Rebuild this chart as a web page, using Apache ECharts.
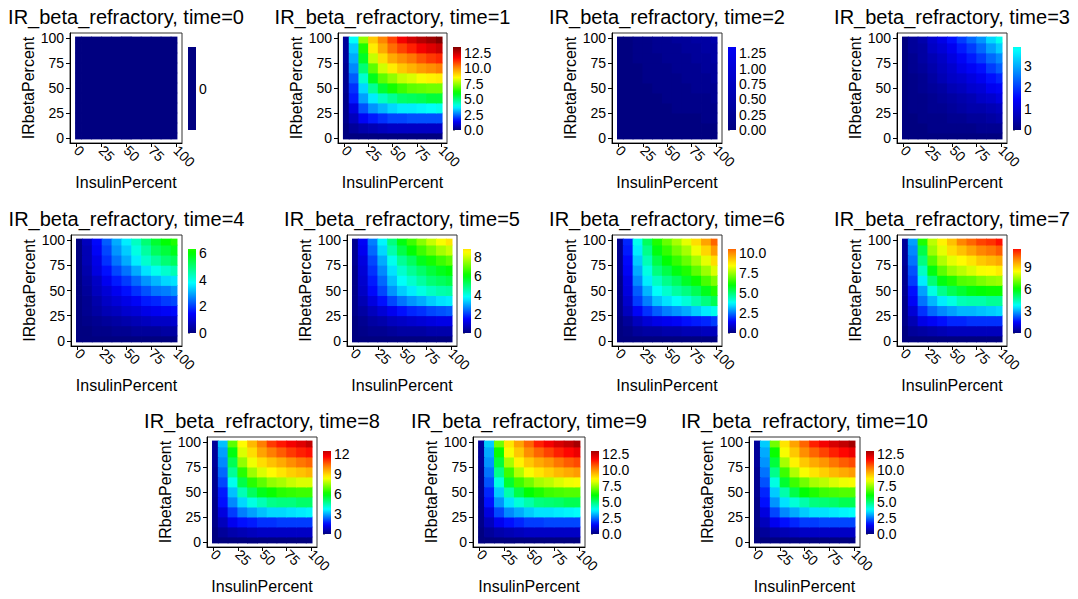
<!DOCTYPE html>
<html><head><meta charset="utf-8">
<script src="https://cdn.jsdelivr.net/npm/echarts@6/dist/echarts.min.js"></script>
<style>html,body{margin:0;padding:0;background:#fff}#c{width:1078px;height:599px}</style>
</head><body><div id="c"></div>
<script>
// ---------------- data ----------------
const times = [0,1,2,3,4,5,6,7,8,9,10];
const insulinPercent = [0,10,20,30,40,50,60,70,80,90,100];   // x centres (columns)
const irbetaPercent  = [0,10,20,30,40,50,60,70,80,90,100];   // y centres (rows)
const axisTickValues = [0,25,50,75,100];
const colorMax = 13.4;

// rows: IRbetaPercent 0 .. 100 ; columns: InsulinPercent 0 .. 100
const grid_t0 = [
 [0,0,0,0,0,0,0,0,0,0,0],[0,0,0,0,0,0,0,0,0,0,0],[0,0,0,0,0,0,0,0,0,0,0],[0,0,0,0,0,0,0,0,0,0,0],
 [0,0,0,0,0,0,0,0,0,0,0],[0,0,0,0,0,0,0,0,0,0,0],[0,0,0,0,0,0,0,0,0,0,0],[0,0,0,0,0,0,0,0,0,0,0],
 [0,0,0,0,0,0,0,0,0,0,0],[0,0,0,0,0,0,0,0,0,0,0],[0,0,0,0,0,0,0,0,0,0,0]];
const grid_t1 = [
 [0,0,0,0,0,0,0,0,0,0,0],
 [0,0.3,0.5,0.6,0.7,0.8,0.8,0.8,0.8,0.8,0.8],
 [0.1,0.7,1.4,1.7,1.9,2.1,2.1,2.2,2.2,2.2,2.2],
 [0.1,1.1,2.2,2.8,3.1,3.4,3.6,3.6,3.7,3.8,3.9],
 [0.1,1.7,2.9,3.6,4.3,4.7,5.1,5.2,5.3,5.5,5.5],
 [0.2,1.9,3.4,4.7,5.6,6.2,6.6,6.9,7.0,7.1,7.1],
 [0.2,2.3,4.2,5.8,6.9,7.4,7.9,8.1,8.4,8.6,8.7],
 [0.2,2.7,5.0,6.9,8.0,8.7,9.2,9.5,9.8,10.0,10.2],
 [0.3,3.0,5.7,7.9,8.9,9.6,10.0,10.3,10.7,11.0,11.2],
 [0.3,3.3,6.3,8.7,9.6,10.4,10.9,11.3,11.8,12.1,12.4],
 [0.3,3.8,7.4,9.2,10.1,10.9,11.8,12.3,12.7,13.0,13.4]];
const grid_t2 = [
 [0,0,0,0,0,0,0,0,0,0,0],
 [0,0,0,0,0,0,0,0,0,0,0],
 [0,0,0,0,0,0,0,0,0,0.1,0.1],
 [0,0,0,0,0,0,0.1,0.1,0.1,0.1,0.1],
 [0,0,0,0,0,0.1,0.1,0.1,0.1,0.1,0.2],
 [0,0,0,0,0.1,0.1,0.1,0.1,0.2,0.2,0.2],
 [0,0,0,0.1,0.1,0.1,0.1,0.2,0.2,0.2,0.3],
 [0,0,0,0.1,0.1,0.1,0.2,0.2,0.2,0.3,0.3],
 [0,0,0.1,0.1,0.1,0.2,0.2,0.2,0.3,0.3,0.4],
 [0,0,0.1,0.1,0.2,0.2,0.2,0.3,0.3,0.4,0.4],
 [0,0,0.1,0.1,0.2,0.2,0.3,0.3,0.4,0.4,0.5]];
const grid_t3 = [
 [0,0,0,0,0,0,0,0,0,0,0],
 [0,0,0,0.1,0.1,0.1,0.1,0.1,0.2,0.2,0.2],
 [0,0,0.1,0.1,0.1,0.2,0.2,0.3,0.3,0.4,0.5],
 [0,0.1,0.1,0.2,0.2,0.3,0.4,0.5,0.5,0.6,0.7],
 [0,0.1,0.1,0.2,0.3,0.4,0.5,0.6,0.8,0.9,1.1],
 [0,0.1,0.2,0.3,0.4,0.6,0.7,0.9,1.0,1.3,1.4],
 [0,0.1,0.2,0.4,0.6,0.8,0.9,1.1,1.3,1.6,1.8],
 [0,0.2,0.3,0.5,0.7,0.9,1.2,1.4,1.6,2.0,2.3],
 [0,0.2,0.4,0.6,0.8,1.1,1.4,1.7,2.0,2.4,2.7],
 [0,0.3,0.4,0.8,1.0,1.3,1.7,2.0,2.4,2.9,3.3],
 [0,0.3,0.5,0.9,1.2,1.6,2.0,2.4,2.8,3.4,3.9]];
const grid_t4 = [
 [0,0,0,0,0,0,0,0,0,0,0],
 [0,0,0.1,0.1,0.2,0.2,0.3,0.3,0.3,0.4,0.4],
 [0,0.1,0.2,0.3,0.4,0.5,0.6,0.7,0.8,0.8,0.9],
 [0,0.2,0.4,0.6,0.7,0.9,1.0,1.2,1.3,1.4,1.5],
 [0,0.2,0.5,0.8,1.0,1.2,1.4,1.7,1.8,2.0,2.1],
 [0,0.3,0.7,1.0,1.3,1.6,1.9,2.2,2.5,2.6,2.8],
 [0,0.4,0.8,1.3,1.7,2.0,2.4,2.8,3.1,3.4,3.5],
 [0,0.5,1.1,1.6,2.1,2.5,3.0,3.5,3.9,4.2,4.4],
 [0,0.6,1.2,1.9,2.5,3.0,3.6,4.2,4.6,5.0,5.2],
 [0,0.6,1.4,2.1,2.8,3.3,4.0,4.6,5.2,5.5,5.8],
 [0,0.7,1.5,2.3,3.0,3.6,4.3,5.0,5.6,6.0,6.3]];
const grid_t5 = [
 [0,0,0,0,0,0,0,0,0,0,0],
 [0,0.1,0.2,0.2,0.3,0.4,0.4,0.4,0.5,0.5,0.5],
 [0,0.2,0.4,0.5,0.7,0.8,0.9,1.0,1.1,1.2,1.2],
 [0.1,0.4,0.7,1.0,1.3,1.6,1.8,1.9,2.1,2.2,2.3],
 [0.1,0.6,1.1,1.6,2.1,2.5,2.8,3.0,3.3,3.5,3.6],
 [0.1,0.8,1.5,2.1,2.8,3.3,3.6,4.0,4.3,4.5,4.6],
 [0.1,0.9,1.7,2.4,3.2,3.8,4.2,4.6,5.0,5.2,5.4],
 [0.1,1.0,1.9,2.7,3.5,4.2,4.7,5.1,5.5,5.8,6.0],
 [0.2,1.1,2.1,3.0,3.9,4.7,5.2,5.8,6.2,6.6,6.9],
 [0.2,1.3,2.4,3.4,4.5,5.4,6.0,6.6,7.1,7.6,7.9],
 [0.2,1.4,2.6,3.7,4.9,5.9,6.6,7.3,7.9,8.4,8.8]];
const grid_t6 = [
 [0,0,0,0,0,0,0,0,0,0,0],
 [0,0.1,0.3,0.4,0.4,0.5,0.5,0.6,0.6,0.7,0.7],
 [0,0.3,0.7,1.0,1.2,1.3,1.4,1.6,1.7,1.8,2.0],
 [0.1,0.7,1.4,1.9,2.3,2.6,2.8,3.0,3.3,3.6,3.9],
 [0.1,0.9,2.0,2.6,3.2,3.5,3.8,4.1,4.5,4.9,5.3],
 [0.1,1.1,2.3,3.1,3.8,4.2,4.6,4.9,5.3,5.8,6.3],
 [0.1,1.2,2.7,3.6,4.3,4.8,5.2,5.7,6.1,6.7,7.2],
 [0.2,1.4,3.0,4.0,4.9,5.4,5.9,6.3,6.9,7.5,8.1],
 [0.2,1.5,3.3,4.4,5.4,6.0,6.5,7.0,7.6,8.2,8.9],
 [0.2,1.7,3.6,4.8,5.9,6.5,7.1,7.6,8.3,9.0,9.8],
 [0.2,1.8,3.9,5.2,6.3,7.0,7.6,8.2,8.9,9.7,10.5]];
const grid_t7 = [
 [0,0,0,0,0,0,0,0,0,0,0],
 [0,0.3,0.4,0.5,0.6,0.7,0.7,0.7,0.7,0.7,0.7],
 [0.1,0.6,1.2,1.4,1.6,1.8,1.8,1.9,1.9,1.9,1.9],
 [0.1,1.0,1.9,2.4,2.7,2.9,3.1,3.1,3.2,3.3,3.4],
 [0.1,1.4,2.5,3.1,3.6,4.0,4.4,4.5,4.5,4.7,4.7],
 [0.2,1.6,2.9,4.0,4.8,5.3,5.6,5.9,6.0,6.1,6.1],
 [0.2,2.0,3.6,5.0,5.9,6.3,6.8,6.9,7.2,7.4,7.5],
 [0.2,2.2,4.3,5.9,6.9,7.5,7.8,8.1,8.4,8.5,8.7],
 [0.3,2.5,4.9,6.8,7.7,8.2,8.5,8.8,9.2,9.4,9.6],
 [0.3,2.7,5.4,7.5,8.2,8.9,9.3,9.7,10.1,10.3,10.6],
 [0.3,2.9,6.3,7.8,8.6,9.3,10.1,10.5,10.9,11.1,11.5]];
const grid_t8 = [
 [0,0,0,0,0,0,0,0,0,0,0],
 [0,0.3,0.5,0.6,0.7,0.8,0.8,0.8,0.8,0.8,0.8],
 [0.1,0.7,1.3,1.6,1.7,1.9,1.9,2.0,2.0,2.0,2.0],
 [0.1,1.1,2.0,2.6,2.9,3.2,3.4,3.4,3.5,3.6,3.7],
 [0.1,1.6,2.7,3.4,4.0,4.4,4.8,4.9,4.9,5.1,5.1],
 [0.2,1.7,3.2,4.4,5.2,5.8,6.1,6.4,6.5,6.6,6.6],
 [0.2,2.1,3.9,5.4,6.4,6.9,7.4,7.6,7.9,8.1,8.1],
 [0.2,2.4,4.7,6.4,7.5,8.1,8.5,8.8,9.1,9.3,9.5],
 [0.3,2.7,5.3,7.4,8.3,8.9,9.3,9.6,10.0,10.3,10.5],
 [0.3,2.9,5.9,8.1,8.9,9.7,10.2,10.6,11.0,11.3,11.5],
 [0.3,3.2,6.9,8.5,9.4,10.2,11.0,11.4,11.8,12.1,12.5]];
const grid_t9 = [
 [0,0,0,0,0,0,0,0,0,0,0],
 [0,0.3,0.5,0.6,0.7,0.8,0.8,0.8,0.8,0.8,0.8],
 [0.1,0.7,1.3,1.6,1.8,2.0,2.0,2.1,2.1,2.1,2.1],
 [0.1,1.1,2.1,2.7,3.0,3.3,3.5,3.5,3.6,3.7,3.8],
 [0.1,1.6,2.8,3.5,4.1,4.5,4.9,5.0,5.1,5.3,5.3],
 [0.2,1.8,3.3,4.5,5.4,6.0,6.3,6.6,6.7,6.8,6.8],
 [0.2,2.2,4.0,5.6,6.6,7.1,7.6,7.8,8.1,8.3,8.4],
 [0.2,2.5,4.8,6.6,7.7,8.4,8.8,9.1,9.4,9.6,9.8],
 [0.3,2.8,5.5,7.6,8.6,9.2,9.6,9.9,10.3,10.6,10.8],
 [0.3,3.0,6.1,8.4,9.2,10.0,10.5,10.9,11.3,11.6,11.9],
 [0.3,3.3,7.1,8.8,9.7,10.5,11.3,11.8,12.2,12.5,12.9]];
const grid_t10 = [
 [0,0,0,0,0,0,0,0,0,0,0],
 [0,0.3,0.5,0.6,0.7,0.8,0.8,0.8,0.8,0.8,0.8],
 [0.1,0.7,1.3,1.6,1.8,2.0,2.0,2.1,2.1,2.1,2.1],
 [0.1,1.1,2.1,2.7,3.0,3.3,3.5,3.5,3.6,3.7,3.8],
 [0.1,1.6,2.8,3.5,4.1,4.5,4.9,5.0,5.1,5.3,5.3],
 [0.2,1.8,3.3,4.5,5.4,6.0,6.3,6.6,6.7,6.8,6.8],
 [0.2,2.2,4.0,5.6,6.6,7.1,7.6,7.8,8.1,8.3,8.4],
 [0.2,2.5,4.8,6.6,7.7,8.4,8.8,9.1,9.4,9.6,9.8],
 [0.3,2.8,5.5,7.6,8.6,9.2,9.6,9.9,10.3,10.6,10.8],
 [0.3,3.0,6.1,8.4,9.2,10.0,10.5,10.9,11.3,11.6,11.9],
 [0.3,3.3,7.1,8.8,9.7,10.5,11.3,11.8,12.2,12.5,12.9]];

const colorbarMax = [0, 13.4, 1.35, 3.9, 6.3, 8.8, 10.5, 11.5, 12.5, 12.9, 12.9];
const colorbarTicks = [
 [0],[0,2.5,5,7.5,10,12.5],[0,0.25,0.5,0.75,1,1.25],[0,1,2,3],[0,2,4,6],[0,2,4,6,8],
 [0,2.5,5,7.5,10],[0,3,6,9],[0,3,6,9,12],[0,2.5,5,7.5,10,12.5],[0,2.5,5,7.5,10,12.5]];
const colorbarTickLabels = [
 ["0"],["0.0","2.5","5.0","7.5","10.0","12.5"],["0.00","0.25","0.50","0.75","1.00","1.25"],
 ["0","1","2","3"],["0","2","4","6"],["0","2","4","6","8"],["0.0","2.5","5.0","7.5","10.0"],
 ["0","3","6","9"],["0","3","6","9","12"],["0.0","2.5","5.0","7.5","10.0","12.5"],
 ["0.0","2.5","5.0","7.5","10.0","12.5"]];

// ---------------- layout / style ----------------
const grids = [grid_t0,grid_t1,grid_t2,grid_t3,grid_t4,grid_t5,grid_t6,grid_t7,grid_t8,grid_t9,grid_t10];
const boxes = [ // left, top, width, height of each plot frame (px)
 [70,33,112,110],[338,33,109,110],[612,33,110,110],[897,33,110,110],
 [71,235,111,111],[347,235,110,111],[612,235,110,111],[897,235,110,111],
 [207,437,110,110],[473,437,112,110],[749,437,111,110]];
const FONT = '"Liberation Sans", Arial, Helvetica, sans-serif';

// rainbow colour map: navy - blue - cyan - green - yellow - orange - red - dark red
const CMAP = [[0,[0,0,128]],[0.11,[0,0,255]],[0.28,[0,255,255]],[0.45,[0,255,0]],
  [0.63,[255,255,0]],[0.76,[255,128,0]],[0.87,[255,0,0]],[1,[128,0,0]]];
function cmap(t){
  t=Math.max(0,Math.min(1,t));
  for(let k=1;k<CMAP.length;k++){
    if(t<=CMAP[k][0]){const a=CMAP[k-1],b=CMAP[k],f=(t-a[0])/(b[0]-a[0]);
      return 'rgb('+a[1].map((c,j)=>Math.round(c+(b[1][j]-c)*f)).join(',')+')';}
  }
  return 'rgb(128,0,0)';
}
const mapColors=[]; for(let k=0;k<=60;k++) mapColors.push(cmap(k/60));

function heatRender(params, api){
  const x=api.value(0), y=api.value(1);
  const x0=Math.max(x-5,-1), x1=Math.min(x+5,101), y0=Math.max(y-5,-1), y1=Math.min(y+5,101);
  const p0=api.coord([x0,y1]), p1=api.coord([x1,y0]);
  return {type:'rect', silent:true,
    shape:{x:p0[0]-0.4,y:p0[1]-0.4,width:p1[0]-p0[0]+0.8,height:p1[1]-p0[1]+0.8},
    style:{fill:api.visual('color')}};
}
function barRender(i){
  return function(params, api){
    const m=colorbarMax[i];
    const lo=m>0?0:-1, hi=m>0?m:1;
    const p0=api.coord([0,hi]), p1=api.coord([1,lo]);
    const stops=[];
    for(let k=0;k<=30;k++){const f=k/30; stops.push({offset:f,color:cmap((m*(1-f))/colorMax)});}
    return {type:'rect', silent:true,
      shape:{x:p0[0],y:p0[1],width:p1[0]-p0[0],height:p1[1]-p0[1]},
      style:{fill:new echarts.graphic.LinearGradient(0,0,0,1,stops)}};
  };
}

const option = {animation:false, backgroundColor:'#fff',
  textStyle:{fontFamily:FONT}, grid:[], xAxis:[], yAxis:[], series:[], graphic:[],
  visualMap:[]};
const heatSeriesIdx=[];

times.forEach((t,i)=>{
  const [L,T,W,H]=boxes[i];
  const gi=option.grid.length;
  option.grid.push({left:L,top:T,width:W,height:H,show:true,borderColor:'#333',borderWidth:1,containLabel:false});
  option.grid.push({left:L+W+6,top:T+14,width:8,height:H-27,show:false,containLabel:false});
  option.xAxis.push({gridIndex:gi,type:'value',min:-6.5,max:106,splitLine:{show:false},
    axisLine:{show:true,onZero:false,lineStyle:{color:'#000',width:1}},
    axisTick:{show:true,customValues:axisTickValues,length:4,lineStyle:{color:'#000'}},
    axisLabel:{customValues:axisTickValues,rotate:-45,margin:5,fontSize:14,color:'#000',fontFamily:FONT},
    name:'InsulinPercent',nameLocation:'middle',nameGap:31,
    nameTextStyle:{fontSize:16,color:'#000',fontFamily:FONT}});
  option.yAxis.push({gridIndex:gi,type:'value',min:-5,max:105,splitLine:{show:false},
    axisLine:{show:true,onZero:false,lineStyle:{color:'#000',width:1}},
    axisTick:{show:true,customValues:axisTickValues,length:4,lineStyle:{color:'#000'}},
    axisLabel:{customValues:axisTickValues,margin:6,fontSize:14,color:'#000',fontFamily:FONT},
    name:'IRbetaPercent',nameLocation:'middle',nameGap:33,
    nameTextStyle:{fontSize:16,color:'#000',fontFamily:FONT}});
  const m=colorbarMax[i];
  option.xAxis.push({gridIndex:gi+1,type:'value',min:0,max:1,show:false});
  option.yAxis.push({gridIndex:gi+1,type:'value',position:'right',
    min:m>0?0:-1,max:m>0?m:1,splitLine:{show:false},axisLine:{show:false},
    axisTick:{show:true,customValues:colorbarTicks[i],length:2,inside:false,lineStyle:{color:'#999'}},
    axisLabel:{customValues:colorbarTicks[i],margin:3,fontSize:14,color:'#000',fontFamily:FONT,
      formatter:(v)=>{const k=colorbarTicks[i].findIndex(z=>Math.abs(z-v)<1e-9);return k>=0?colorbarTickLabels[i][k]:'';}}});
  const data=[];
  grids[i].forEach((row,r)=>row.forEach((v,c)=>data.push([insulinPercent[c],irbetaPercent[r],v])));
  heatSeriesIdx.push(option.series.length);
  option.series.push({type:'custom',name:'time='+t,xAxisIndex:gi,yAxisIndex:gi,coordinateSystem:'cartesian2d',
    renderItem:heatRender,data:data,clip:true,silent:true,encode:{x:0,y:1}});
  option.series.push({type:'custom',xAxisIndex:gi+1,yAxisIndex:gi+1,coordinateSystem:'cartesian2d',
    renderItem:barRender(i),data:[[0,m]],silent:true});
  option.graphic.push({type:'text',x:L+W/2,y:T-16,silent:true,
    style:{text:'IR_beta_refractory, time='+t,font:'20px '+FONT,fill:'#000',align:'center',verticalAlign:'middle'}});
});
option.visualMap.push({type:'continuous',show:false,min:0,max:colorMax,dimension:2,
  seriesIndex:heatSeriesIdx,inRange:{color:mapColors}});

const chart = echarts.init(document.getElementById('c'),null,{renderer:'svg',width:1078,height:599});
chart.setOption(option);
</script></body></html>
